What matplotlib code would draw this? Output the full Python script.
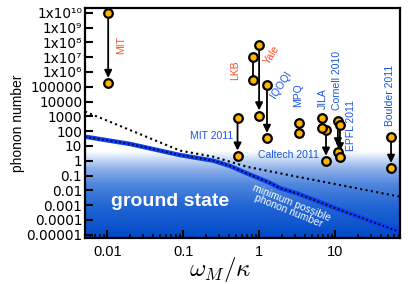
import numpy as np
import matplotlib
matplotlib.use("Agg")
import matplotlib.pyplot as plt
from matplotlib.ticker import FixedLocator, LogLocator, NullFormatter, NullLocator

plt.rcParams['font.family'] = ['Liberation Sans', 'DejaVu Sans']
plt.rcParams['mathtext.fontset'] = 'custom'
plt.rcParams['mathtext.rm'] = 'Liberation Sans'
plt.rcParams['mathtext.it'] = 'Liberation Sans:italic'

# ---------------- data ----------------
names = ['MIT', 'LKB', 'Yale', 'IQOQI', 'MIT 2011', 'MPQ', 'JILA',
         'Caltech 2011', 'Cornell 2010', 'EPFL 2011', 'Boulder 2011']
ratio = [0.0103, 0.84, 1.0, 1.27, 0.52, 3.36, 6.7, 7.6, 10.9, 11.6, 54.6]
n_start = [9.0e9, 1.0e7, 6.6e7, 1.3e5, 730, 340, 800, 118, 480, 260, 42]
n_end = [1.7e5, 2.8e5, 1100, 33, 2.1, 71, 170, 0.95, 4.1, 1.9, 0.31]
has_arrow = [True, False, True, True, True, False, False, True, True, True, True]

# minimum possible phonon number curve
min_x = [0.0051, 0.02, 0.091, 0.25, 0.415, 0.69, 1.4, 1.89, 3.13, 10.0, 71.6]
min_n = [42, 13.5, 2.4, 1.0, 0.44, 0.14, 0.031, 0.014, 0.0063, 6.3e-4, 1.5e-5]

# dotted reference curve
dot_x = [0.0051, 0.02, 0.091, 0.25, 0.69, 1.89, 71.6]
dot_n = [2100, 118, 4.8, 1.86, 0.39, 0.14, 0.0037]

ytick_vals = [1e10, 1e9, 1e8, 1e7, 1e6, 1e5, 1e4, 1e3, 1e2, 1e1, 1, 0.1,
              0.01, 1e-3, 1e-4, 1e-5]
ytick_labels = ['1x10\u00b9\u2070', '1x10\u2079', '1x10\u2078', '1x10\u2077',
                '1x10\u2076', '100000', '10000', '1000', '100', '10', '1',
                '0.1', '0.01', '0.001', '0.0001', '0.00001']
xtick_vals = [0.01, 0.1, 1, 10]
xtick_labels = ['0.01', '0.1', '1', '10']

# ---------------- figure ----------------
fig = plt.figure(figsize=(4.15, 2.84), dpi=100)
ax = fig.add_axes([0.2048, 0.162, 0.759, 0.810])
ax.set_xscale('log')
ax.set_yscale('log')

# ground-state gradient
stops_pos = np.array([0.0, 0.09, 0.21, 0.38, 0.62, 1.0])
stops_col = np.array([[255, 255, 255], [200, 220, 245], [140, 175, 232],
                      [80, 135, 222], [35, 103, 212], [0, 72, 200]]) / 255.0
t = np.linspace(0, 1, 200)
grad = np.stack([np.interp(t, stops_pos, stops_col[:, k]) for k in range(3)], axis=-1)
grad = grad[:, None, :]
ax.imshow(grad, extent=[0, 1, 0, 0.374], transform=ax.transAxes,
          aspect='auto', zorder=0, interpolation='bilinear', origin='upper')

# curves
ax.plot(dot_x, dot_n, color='k', lw=1.5, ls=(0, (1, 1.6)), zorder=2)
ax.plot(min_x, min_n, color='#0a3ef0', lw=3.2, zorder=2, solid_capstyle='butt')
ax.plot(min_x, min_n, color='k', lw=1.2, ls=(0, (1, 1.6)), zorder=2.1)

# experiments
for x, a, b, arr in zip(ratio, n_start, n_end, has_arrow):
    if arr:
        ax.annotate('', xy=(x, b), xytext=(x, a),
                    arrowprops=dict(arrowstyle='-|>,head_length=0.45,head_width=0.22',
                                    lw=1.3, color='k', shrinkA=0, shrinkB=3.8),
                    zorder=3)
    else:
        ax.plot([x, x], [a, b], color='k', lw=1.3, zorder=3)
ax.plot(ratio, n_start, 'o', ms=6.2, mfc='#ffb400', mec='k', mew=1.6, zorder=4, ls='none')
ax.plot(ratio, n_end, 'o', ms=6.2, mfc='#ffb400', mec='k', mew=1.6, zorder=4, ls='none')

ax.set_xlim(0.0051, 71.6)
ax.set_ylim(6e-6, 2.1e10)

# labels of experiments (axes-fraction positions)
red = '#ff4a2a'
blue = '#1a56dc'
fs = 7.5
tk = dict(transform=ax.transAxes, fontsize=fs, ha='center', va='center')
ax.text(0.114, 0.839, 'MIT', color=red, rotation=90, **tk)
ax.text(0.476, 0.730, 'LKB', color=red, rotation=90, **tk)
ax.text(0.594, 0.796, 'Yale', color=red, rotation=57, **tk)
ax.text(0.622, 0.665, 'IQOQI', color=blue, rotation=57, **tk)
ax.text(0.676, 0.622, 'MPQ', color=blue, rotation=90, **tk)
ax.text(0.756, 0.604, 'JILA', color=blue, rotation=90, **tk)
ax.text(0.800, 0.683, 'Cornell 2010', color=blue, rotation=90, **tk)
ax.text(0.843, 0.491, 'EPFL 2011', color=blue, rotation=90, **tk)
ax.text(0.968, 0.622, 'Boulder 2011', color=blue, rotation=90, **tk)
ax.text(0.470, 0.443, 'MIT 2011', color=blue, transform=ax.transAxes,
        fontsize=fs, ha='right', va='center')
ax.text(0.549, 0.361, 'Caltech 2011', color=blue, transform=ax.transAxes,
        fontsize=fs, ha='left', va='center')

ax.text(0.27, 0.157, 'ground state', color='white', fontsize=14, fontweight='bold',
        transform=ax.transAxes, ha='center', va='center', zorder=5)
ax.text(0.651, 0.135, 'minimum possible\nphonon number', color='white', fontsize=7.5,
        transform=ax.transAxes, ha='center', va='center', rotation=-22,
        rotation_mode='anchor', linespacing=0.95, zorder=5)

# ticks
ax.yaxis.set_major_locator(FixedLocator(ytick_vals))
ax.set_yticklabels(ytick_labels, family=['DejaVu Sans'])
ax.yaxis.set_minor_locator(NullLocator())
ax.xaxis.set_major_locator(FixedLocator(xtick_vals))
ax.set_xticklabels(xtick_labels)
ax.xaxis.set_minor_locator(LogLocator(base=10, subs=np.arange(2, 10)))
ax.xaxis.set_minor_formatter(NullFormatter())
ax.tick_params(axis='both', which='major', direction='in', length=6, width=1.5,
               labelsize=10.5, top=False, right=False)
ax.tick_params(axis='y', which='major', labelsize=9.8)
ax.tick_params(axis='x', which='minor', direction='in', length=3, width=1.1,
               top=False)
ax.tick_params(axis='y', which='major', pad=2)
ax.tick_params(axis='x', which='major', pad=5)
for s in ax.spines.values():
    s.set_linewidth(1.6)

ax.set_ylabel('phonon number', fontsize=10)
ax.yaxis.set_label_coords(-0.19, 0.5)
ax.set_xlabel(r'$\omega_M/\kappa$', fontsize=18, math_fontfamily='cm')
ax.xaxis.set_label_coords(0.43, -0.072)

fig.savefig('out.png', dpi=100)
